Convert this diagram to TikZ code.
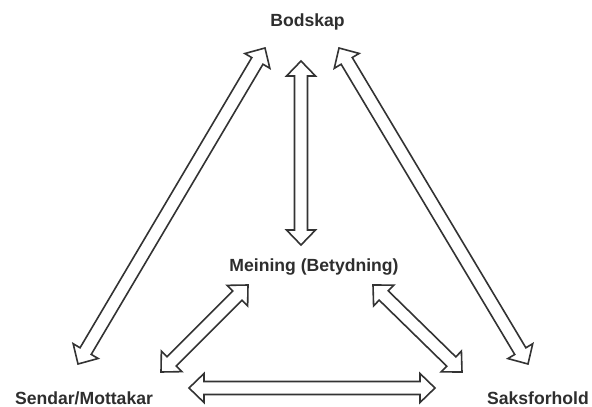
\documentclass[tikz,border=0pt]{standalone}
\usepackage{fontspec}
\setmainfont{Liberation Sans}
\usetikzlibrary{calc}
\newcommand\hl{15pt}
\newcommand\hh{14.5pt}
\newcommand\hw{6.5pt}
\newcommand\blockarrow[2]{%
  \coordinate (ha) at ($(#1)!\hl!(#2)$);
  \coordinate (hb) at ($(#2)!\hl!(#1)$);
  \draw[blockarr] (#1)
    -- ($(ha)!\hh!90:(#2)$) -- ($(ha)!\hw!90:(#2)$)
    -- ($(hb)!\hw!-90:(#1)$) -- ($(hb)!\hh!-90:(#1)$)
    -- (#2)
    -- ($(hb)!\hh!90:(#1)$) -- ($(hb)!\hw!90:(#1)$)
    -- ($(ha)!\hw!-90:(#2)$) -- ($(ha)!\hh!-90:(#2)$)
    -- cycle;}
\tikzset{
  blockarr/.style={draw=black!80, line width=1.6pt, line join=miter, fill=white},
  lbl/.style={font=\bfseries\fontsize{17.6}{19}\selectfont, text=black!82, anchor=base, inner sep=0pt}
}
\begin{document}
\begin{tikzpicture}[x=1pt,y=-1pt]
\useasboundingbox (0,0) rectangle (592,407);
\fill[white] (0,0) rectangle (592,407);
\node[lbl] (bod) at (307.5,26) {Bodskap};
\node[lbl] (mei) at (314,271) {Meining (Betydning)};
\node[lbl] (sen) at (84,404) {Sendar/Mottakar};
\node[lbl] (sak) at (538,404) {Saksforhold};
% arrow end points
\coordinate (l1) at (265,48);  \coordinate (l2) at (78,364);
\coordinate (m1) at (301,61);  \coordinate (m2) at (301,245);
\coordinate (r1) at (339,48);  \coordinate (r2) at (528,364);
\coordinate (sl1) at (248,285); \coordinate (sl2) at (161,372);
\coordinate (sr1) at (373,285); \coordinate (sr2) at (462,372);
\coordinate (h1) at (189,388); \coordinate (h2) at (435,388);
\blockarrow{l1}{l2}
\blockarrow{m1}{m2}
\blockarrow{r1}{r2}
\blockarrow{sl1}{sl2}
\blockarrow{sr1}{sr2}
\blockarrow{h1}{h2}
\end{tikzpicture}
\end{document}
